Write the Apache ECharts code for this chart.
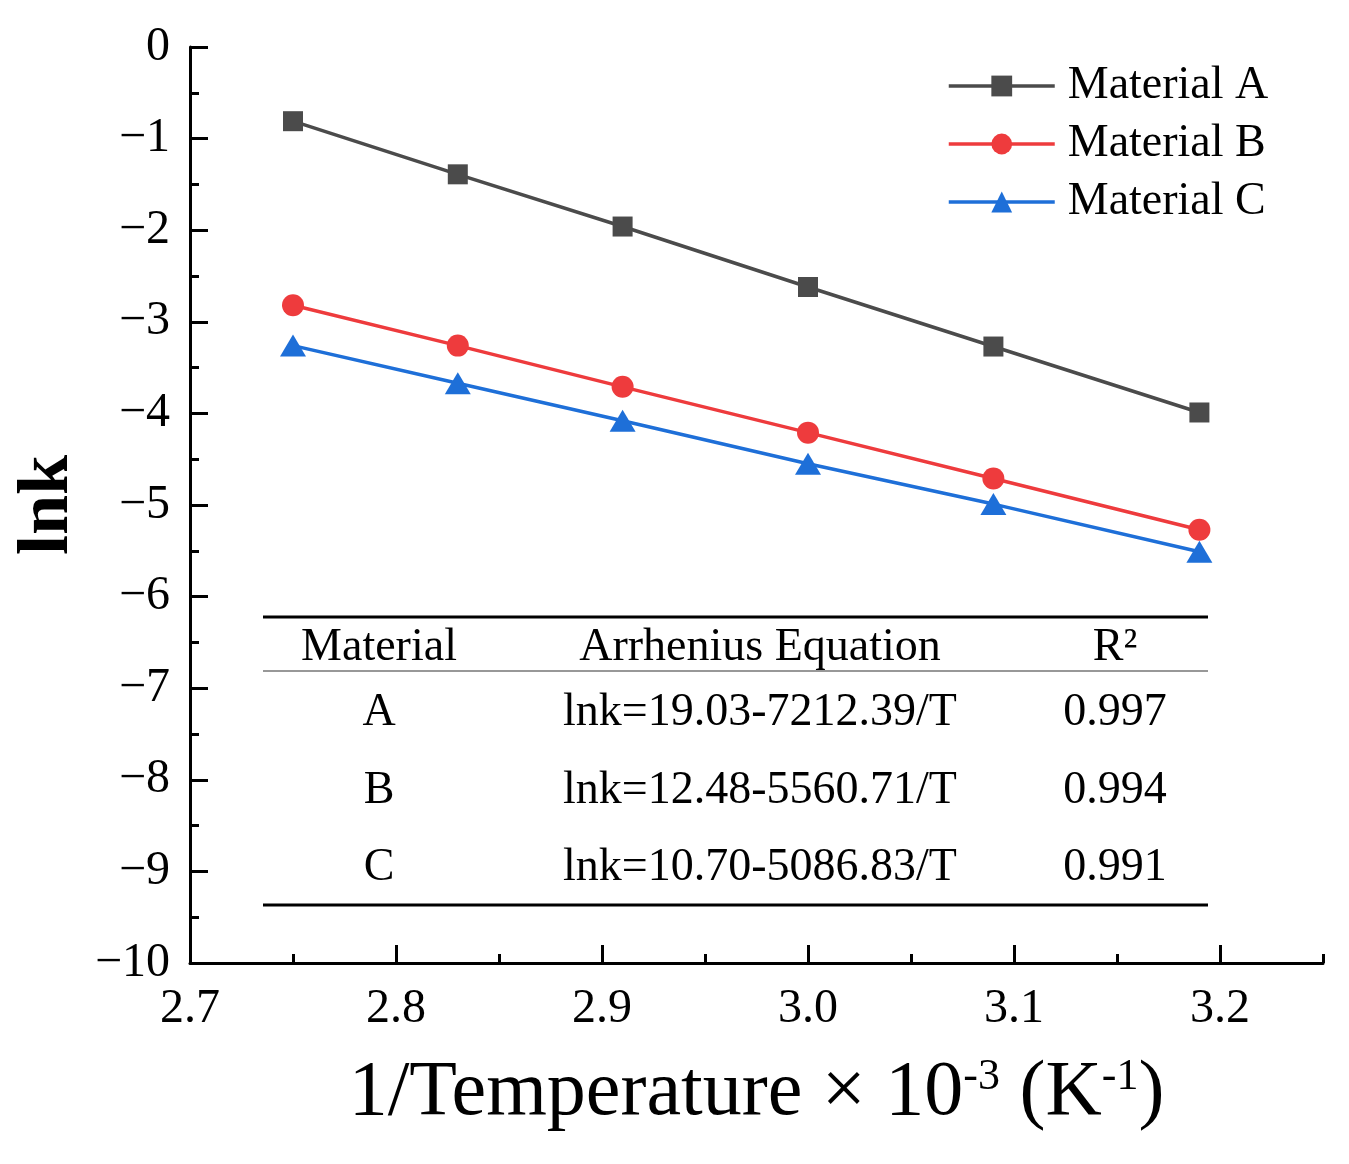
<!DOCTYPE html>
<html>
<head>
<meta charset="utf-8">
<script src="https://cdn.jsdelivr.net/npm/echarts@6/dist/echarts.min.js"></script>
<style>
html,body{margin:0;padding:0;background:#fff;}
#chart{width:1349px;height:1164px;}
</style>
</head>
<body>
<div id="chart"></div>
<script>
// ---- data ----
var invT = [2.75, 2.83, 2.91, 3.00, 3.09, 3.19];
var lnkA = [-0.81, -1.39, -1.96, -2.62, -3.27, -3.99];
var lnkB = [-2.82, -3.26, -3.71, -4.21, -4.71, -5.27];
var lnkC = [-3.26, -3.67, -4.08, -4.55, -4.99, -5.51];
var seriesNames = ['Material A', 'Material B', 'Material C'];
var xMajorTicks = [2.7, 2.8, 2.9, 3.0, 3.1, 3.2];
var tableHeader = ['Material', 'Arrhenius Equation', 'R²'];
var tableMaterials = ['A', 'B', 'C'];
var tableEquations = ['lnk=19.03-7212.39/T', 'lnk=12.48-5560.71/T', 'lnk=10.70-5086.83/T'];
var tableR2 = ['0.997', '0.994', '0.991'];

var FONT = '"Liberation Serif","Times New Roman",serif';
var colors = ['#4b4b4b', '#ee3b3d', '#1e6fd8'];

function pairs(xs, ys){ return xs.map(function(x,i){ return [x, ys[i]]; }); }

var chart = echarts.init(document.getElementById('chart'), null, {renderer:'canvas'});

// table graphics
var tblLeft = 263, tblRight = 1208;
var colX = [379, 760, 1115];
var headerY = 648;
var rowY = [713, 791, 868];
var graphics = [
  {type:'line', shape:{x1:tblLeft,y1:617,x2:tblRight,y2:617}, style:{stroke:'#000',lineWidth:3}},
  {type:'line', shape:{x1:tblLeft,y1:671,x2:tblRight,y2:671}, style:{stroke:'#333',lineWidth:1.2}},
  {type:'line', shape:{x1:tblLeft,y1:905,x2:tblRight,y2:905}, style:{stroke:'#000',lineWidth:3}}
];
tableHeader.forEach(function(t,i){
  graphics.push({type:'text', x:colX[i], y:headerY, style:{text:t, font:'46px '+FONT, fill:'#000', align:'center', verticalAlign:'middle'}});
});
[tableMaterials, tableEquations, tableR2].forEach(function(col, ci){
  col.forEach(function(t, ri){
    graphics.push({type:'text', x:colX[ci], y:rowY[ri], style:{text:t, font:'46px '+FONT, fill:'#000', align:'center', verticalAlign:'middle'}});
  });
});

var option = {
  backgroundColor:'#fff',
  animation:false,
  grid:{left:190, right:26, top:47, bottom:201},
  legend:{
    orient:'vertical', left:947, top:63, padding:0, itemGap:12,
    itemWidth:106, itemHeight:26,
    lineStyle:{width:3.5},
    textStyle:{fontFamily:FONT, fontSize:46, color:'#000', padding:[0,0,0,8]},
    data:seriesNames
  },
  xAxis:[{
    type:'value', min:2.7, max:3.25, interval:0.1, position:'bottom',
    name:'1/Temperature × 10{sup|-3} (K{sup|-1})',
    nameLocation:'middle', nameGap:92,
    nameTextStyle:{fontFamily:FONT, fontSize:78, color:'#000',
      rich:{sup:{fontFamily:FONT, fontSize:44, color:'#000', verticalAlign:'top'}}},
    axisLine:{show:true, onZero:false, lineStyle:{color:'#000', width:3}},
    axisTick:{show:true, inside:true, length:18, lineStyle:{color:'#000', width:3}, customValues:xMajorTicks},
    axisLabel:{fontFamily:FONT, fontSize:48, color:'#000', margin:22, customValues:xMajorTicks,
      formatter:function(v){ return v.toFixed(1); }},
    splitLine:{show:false}
  },{
    type:'value', min:2.7, max:3.25, interval:0.05, position:'bottom',
    axisLine:{show:false, onZero:false},
    axisTick:{show:true, inside:true, length:9, lineStyle:{color:'#000', width:3}},
    axisLabel:{show:false},
    splitLine:{show:false}
  }],
  yAxis:{
    type:'value', min:-10, max:0, interval:1,
    name:'lnk', nameLocation:'middle', nameGap:96,
    nameTextStyle:{fontFamily:FONT, fontSize:72, fontWeight:'bold', color:'#000'},
    axisLine:{show:true, onZero:false, lineStyle:{color:'#000', width:3}},
    axisTick:{show:true, inside:true, length:18, lineStyle:{color:'#000', width:3}},
    minorTick:{show:true, splitNumber:2, length:9, lineStyle:{color:'#000', width:3}},
    axisLabel:{fontFamily:FONT, fontSize:48, color:'#000', margin:20,
      formatter:function(v){ return String(v).replace('-', '\u2212'); }},
    splitLine:{show:false}
  },
  graphic:graphics,
  series:[
    {name:seriesNames[0], type:'line', data:pairs(invT,lnkA), symbol:'rect', symbolSize:20,
     itemStyle:{color:colors[0]}, lineStyle:{color:colors[0], width:3.5}, z:3},
    {name:seriesNames[1], type:'line', data:pairs(invT,lnkB), symbol:'circle', symbolSize:22,
     itemStyle:{color:colors[1]}, lineStyle:{color:colors[1], width:3.5}, z:3},
    {name:seriesNames[2], type:'line', data:pairs(invT,lnkC), symbol:'triangle', symbolSize:[26,22],
     itemStyle:{color:colors[2]}, lineStyle:{color:colors[2], width:3.5}, z:3}
  ]
};
chart.setOption(option);
</script>
</body>
</html>
